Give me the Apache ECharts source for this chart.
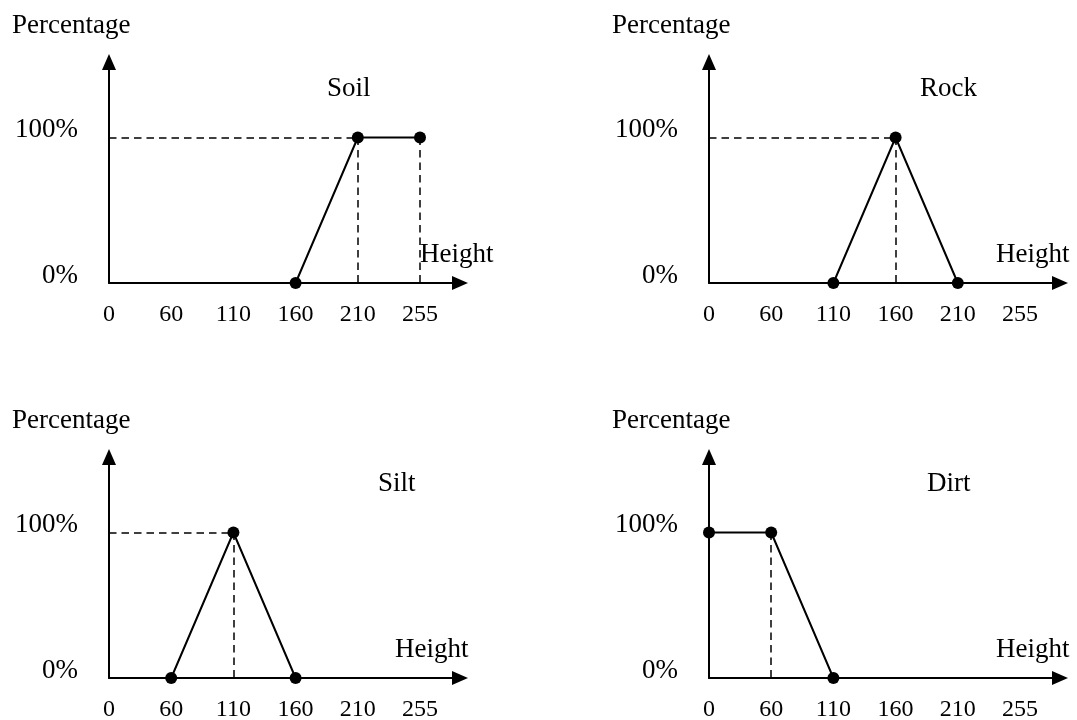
<!DOCTYPE html>
<html>
<head>
<meta charset="utf-8">
<script src="https://cdn.jsdelivr.net/npm/echarts@6/dist/echarts.min.js"></script>
<style>
  html, body { margin: 0; padding: 0; background: #fff; }
  #chart { width: 1077px; height: 720px; }
</style>
</head>
<body>
<div id="chart"></div>
<script>
// Height levels shown under every horizontal axis
const heightTicks = ['0', '60', '110', '160', '210', '255'];
// Percentage levels marked on every vertical axis
const percentTicks = [0, 100];

// Membership of each material along the height levels
const soilHeights = ['160', '210', '255'];
const soilPercent = [0, 100, 100];
const rockHeights = ['110', '160', '210'];
const rockPercent = [0, 100, 0];
const siltHeights = ['60', '110', '160'];
const siltPercent = [0, 100, 0];
const dirtHeights = ['0', '60', '110'];
const dirtPercent = [100, 100, 0];

const FONT = "'Liberation Serif', 'Times New Roman', serif";
const INK = '#000';

// Geometry of the top-left panel; the others are shifted copies
const AXIS_X = 109, AXIS_Y = 283, FULL_Y = 137.5, TICK_SPAN = 311;
const TIP_X = 468, TIP_Y = 54;
const ARROW_W = 14, ARROW_L = 16;

const panels = [
  { name: 'Soil', heights: soilHeights, percent: soilPercent, dx: 0,   dy: 0,   nameLeft: 327, heightLeft: 420 },
  { name: 'Rock', heights: rockHeights, percent: rockPercent, dx: 600, dy: 0,   nameLeft: 920, heightLeft: 996 },
  { name: 'Silt', heights: siltHeights, percent: siltPercent, dx: 0,   dy: 395, nameLeft: 378, heightLeft: 395 },
  { name: 'Dirt', heights: dirtHeights, percent: dirtPercent, dx: 600, dy: 395, nameLeft: 927, heightLeft: 996 }
];

// Text top from the desired baseline (single line)
function topFromBaseline(baseline, size) {
  return baseline - size * 0.5 - size * 0.23;
}

const grid = [], xAxis = [], yAxis = [], series = [], title = [];

panels.forEach(function (p, i) {
  const ax = AXIS_X + p.dx;

  // Frame grid: the two axis lines ending in filled arrowheads
  grid.push({
    left: ax, top: TIP_Y + p.dy + ARROW_L / 2,
    width: TIP_X - ARROW_L / 2 - AXIS_X,
    height: AXIS_Y - (TIP_Y + ARROW_L / 2),
    outerBoundsMode: 'none', containLabel: false
  });
  // Data grid: height levels and percentage scale
  grid.push({
    left: ax, top: FULL_Y + p.dy,
    width: TICK_SPAN, height: AXIS_Y - FULL_Y,
    outerBoundsMode: 'none', containLabel: false
  });

  const frameAxisLine = {
    show: true,
    symbol: ['none', 'triangle'],
    symbolSize: [ARROW_W, ARROW_L],
    lineStyle: { color: INK, width: 2 }
  };
  xAxis.push({
    gridIndex: 2 * i, type: 'value', min: 0, max: 1,
    axisLine: frameAxisLine, axisTick: { show: false },
    axisLabel: { show: false }, splitLine: { show: false }
  });
  yAxis.push({
    gridIndex: 2 * i, type: 'value', min: 0, max: 1,
    axisLine: frameAxisLine, axisTick: { show: false },
    axisLabel: { show: false }, splitLine: { show: false }
  });

  xAxis.push({
    gridIndex: 2 * i + 1, type: 'category', data: heightTicks,
    boundaryGap: false,
    axisLine: { show: false }, axisTick: { show: false }, splitLine: { show: false },
    axisLabel: {
      interval: 0, margin: 20, color: INK,
      fontFamily: FONT, fontSize: 24
    }
  });
  yAxis.push({
    gridIndex: 2 * i + 1, type: 'value',
    min: percentTicks[0], max: percentTicks[1], interval: percentTicks[1] - percentTicks[0],
    axisLine: { show: false }, axisTick: { show: false }, splitLine: { show: false },
    axisLabel: {
      formatter: '{value}%', margin: 31, color: INK,
      fontFamily: FONT, fontSize: 27,
      verticalAlign: 'bottom', lineHeight: 15
    }
  });

  // Dashed guides: across from the axis to the first full point,
  // and down from every full point that is off the axis
  const full = p.heights.filter(function (h, k) { return p.percent[k] === percentTicks[1]; });
  const guides = [];
  if (full.length && full[0] !== heightTicks[0]) {
    guides.push([{ coord: [heightTicks[0], percentTicks[1]] }, { coord: [full[0], percentTicks[1]] }]);
  }
  full.forEach(function (h) {
    if (h !== heightTicks[0]) {
      guides.push([{ coord: [h, percentTicks[1]] }, { coord: [h, percentTicks[0]] }]);
    }
  });

  series.push({
    name: p.name, type: 'line',
    xAxisIndex: 2 * i + 1, yAxisIndex: 2 * i + 1,
    data: p.heights.map(function (h, k) { return [h, p.percent[k]]; }),
    symbol: 'circle', symbolSize: 12, showAllSymbol: true,
    itemStyle: { color: INK },
    lineStyle: { color: INK, width: 2 },
    clip: false, silent: true, animation: false, z: 5,
    markLine: {
      silent: true, symbol: ['none', 'none'],
      label: { show: false },
      lineStyle: { color: INK, width: 1.5, type: [7.5, 5] },
      emphasis: { disabled: true },
      animation: false,
      data: guides
    }
  });

  const big = { color: INK, fontFamily: FONT, fontSize: 27, fontWeight: 'normal' };
  title.push({ text: 'Percentage', left: 12 + p.dx, top: topFromBaseline(32.3 + p.dy, 27), padding: 0, textStyle: big });
  title.push({ text: p.name, left: p.nameLeft, top: topFromBaseline(95 + p.dy, 27), padding: 0, textStyle: big });
  title.push({ text: 'Height', left: p.heightLeft, top: topFromBaseline(261 + p.dy, 27), padding: 0, textStyle: big });
});

const chart = echarts.init(document.getElementById('chart'), null, { renderer: 'canvas' });
chart.setOption({
  backgroundColor: '#fff',
  animation: false,
  title: title,
  grid: grid,
  xAxis: xAxis,
  yAxis: yAxis,
  series: series
});
</script>
</body>
</html>
